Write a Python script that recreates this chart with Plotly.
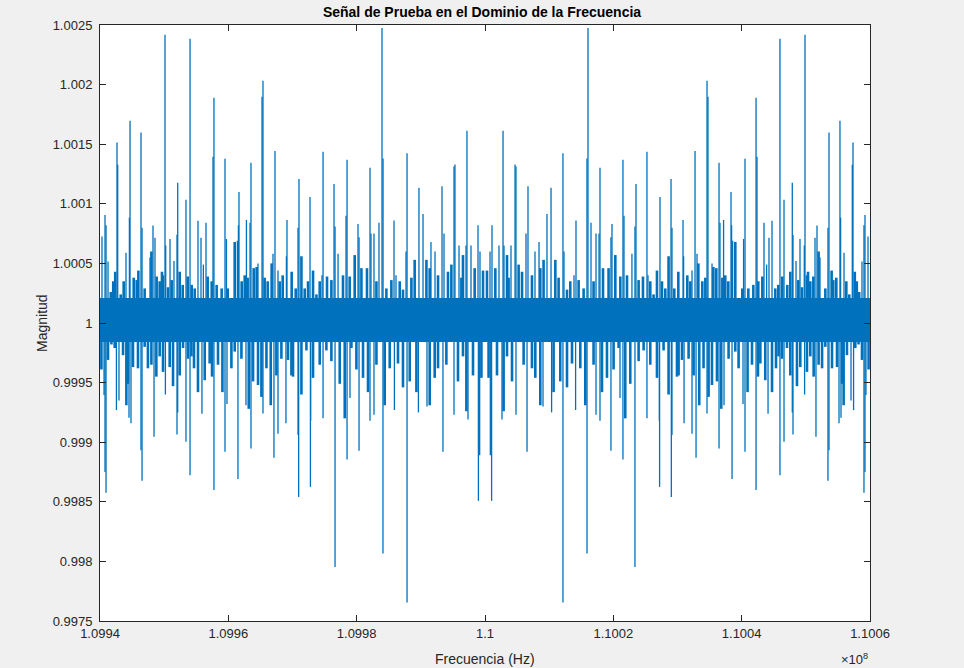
import plotly.graph_objects as go

# Centre frequency (Hz); every offset below is in units of 100 Hz from it
center_hz = 110e6
off_unit_hz = 100.0
span_off = [-600.0, 600.0]

# Dense core of the noise band (magnitude)
core_top = 1.00021
core_bottom = 0.99984

# Tall peaks above 1 (offset, magnitude)
up_left_off = [-596.9, -592.2, -590.6, -587.5, -573.5, -572.4, -559.5, -554.2, -553.2, -536.1,
               -534.5, -522.1, -517.4, -514.3, -498.7, -497.6, -490.9, -484.7, -480.0, -478.9,
               -466.0, -459.7, -447.3, -442.6, -438.9, -434.8, -423.9, -422.4, -405.2, -403.0,
               -385.9, -384.3, -383.4, -371.8, -366.2, -364.7, -353.8, -347.5, -346.0, -330.4,
               -327.3, -322.6, -309.5, -308.6, -291.4, -289.9, -272.7, -254.0, -252.4, -235.3,
               -233.7, -229.0, -216.6, -215.0, -197.9, -196.3, -179.2, -177.7, -173.0, -165.2,
               -160.5, -158.9, -141.8, -138.7, -123.1, -121.5, -102.9, -96.6, -84.2, -77.9,
               -67.0, -63.9, -48.3, -46.8, -40.5, -29.6, -28.1, -21.8, -10.9, -7.8]
up_left_mag = [1.000725, 1.000907, 1.00082, 1.000515, 1.001514, 1.001327, 1.00059, 1.000884, 1.001696, 1.001598,
               1.0008, 1.00055, 1.000817, 1.000716, 1.002419, 1.00065, 1.000705, 1.00052, 1.00074, 1.001176,
               1.001033, 1.002385, 1.000857, 1.000716, 1.00049, 1.00084, 1.001394, 1.00189, 1.001377, 1.000705,
               1.00069, 1.00082, 1.0011, 1.000865, 1.00084, 1.001344, 1.0005, 1.001898, 1.002032, 1.00058,
               1.001444, 1.00044, 1.00056, 1.000865, 1.0008, 1.001209, 1.001058, 1.0004, 1.001436, 1.001167,
               1.00081, 1.00058, 1.0009, 1.001369, 1.00083, 1.00072, 1.001302, 1.00075, 1.00075, 1.00084,
               1.002475, 1.00138, 1.00086, 1.0004, 1.0006, 1.001425, 1.001134, 1.000915, 1.00068, 1.0006,
               1.001148, 1.00075, 1.001313, 1.00133, 1.00065, 1.00065, 1.001612, 1.00065, 1.00082, 1.0006]
up_right_off = [7.8, 10.9, 21.8, 28.1, 29.6, 40.5, 46.8, 48.3, 63.9, 67.0,
                77.9, 84.2, 96.6, 102.9, 121.5, 123.1, 138.7, 141.8, 158.9, 160.5,
                165.2, 173.0, 177.7, 179.2, 196.3, 197.9, 215.0, 216.6, 229.0, 233.7,
                235.3, 252.4, 254.0, 272.7, 289.9, 291.4, 308.6, 309.5, 322.6, 327.3,
                330.4, 346.0, 347.5, 353.8, 364.7, 366.2, 371.8, 383.4, 384.3, 385.9,
                403.0, 405.2, 422.4, 423.9, 434.8, 438.9, 442.6, 447.3, 459.7, 466.0,
                478.9, 480.0, 484.7, 490.9, 497.6, 498.7, 514.3, 517.4, 522.1, 534.5,
                536.1, 553.2, 554.2, 559.5, 572.4, 573.5, 587.5, 590.6, 592.2, 596.9]
up_right_mag = [1.0006, 1.00082, 1.00065, 1.001612, 1.00065, 1.00065, 1.00133, 1.001313, 1.00075, 1.001148,
                1.0006, 1.00068, 1.000915, 1.001134, 1.001425, 1.0006, 1.0004, 1.00086, 1.00138, 1.002475,
                1.00084, 1.00075, 1.00075, 1.001302, 1.00072, 1.00083, 1.001369, 1.0009, 1.00058, 1.00081,
                1.001167, 1.001436, 1.0004, 1.001058, 1.001209, 1.0008, 1.000865, 1.00056, 1.00044, 1.001444,
                1.00058, 1.002032, 1.001898, 1.0005, 1.001344, 1.00084, 1.000865, 1.0011, 1.00082, 1.00069,
                1.000705, 1.001377, 1.00189, 1.001394, 1.00084, 1.00049, 1.000716, 1.000857, 1.002385, 1.001033,
                1.001176, 1.00074, 1.00052, 1.000705, 1.00065, 1.002419, 1.000716, 1.000817, 1.00055, 1.0008,
                1.001598, 1.001696, 1.000884, 1.00059, 1.001327, 1.001514, 1.000515, 1.00082, 1.000907, 1.000725]

# Deep dips below 1
down_left_off = [-593.7, -592.2, -590.6, -574.4, -570.4, -554.8, -551.7, -536.1, -534.5, -515.8,
                 -498.1, -480.0, -478.9, -466.0, -459.7, -441.1, -422.4, -405.2, -402.1, -385.0,
                 -372.5, -364.7, -346.0, -328.9, -322.6, -310.2, -291.4, -290.4, -272.1, -271.7,
                 -252.4, -233.7, -215.0, -210.4, -196.3, -179.2, -173.0, -159.0, -141.2, -121.5,
                 -103.8, -90.4, -65.5, -48.3, -26.5, -10.3, -8.3]
down_left_mag = [0.999395, 0.998751, 0.998575, 0.999269, 0.99935, 0.999205, 0.999158, 0.998933, 0.998676, 0.999045,
                 0.9994, 0.999065, 0.99925, 0.999003, 0.998723, 0.999238, 0.9986, 0.998919, 0.99932, 0.998692,
                 0.99931, 0.998947, 0.99924, 0.998869, 0.99907, 0.99916, 0.99906, 0.998541, 0.998625, 0.99918,
                 0.9992, 0.997953, 0.998855, 0.99937, 0.998928, 0.99918, 0.99923, 0.998066, 0.99927, 0.997655,
                 0.99925, 0.9993, 0.998919, 0.99923, 0.99919, 0.998508, 0.99889]
down_right_off = [8.3, 10.3, 26.5, 48.3, 65.5, 90.4, 103.8, 121.5, 141.2, 159.0,
                  173.0, 179.2, 196.3, 210.4, 215.0, 233.7, 252.4, 271.7, 272.1, 290.4,
                  291.4, 310.2, 322.6, 328.9, 346.0, 364.7, 372.5, 385.0, 402.1, 405.2,
                  422.4, 441.1, 459.7, 466.0, 478.9, 480.0, 498.1, 515.8, 534.5, 536.1,
                  551.7, 554.8, 570.4, 574.4, 590.6, 592.2, 593.7]
down_right_mag = [0.99889, 0.998508, 0.99919, 0.99923, 0.998919, 0.9993, 0.99925, 0.997655, 0.99927, 0.998066,
                  0.99923, 0.99918, 0.998928, 0.99937, 0.998855, 0.997953, 0.9992, 0.99918, 0.998625, 0.998541,
                  0.99906, 0.99916, 0.99907, 0.998869, 0.99924, 0.998947, 0.99931, 0.998692, 0.99932, 0.998919,
                  0.9986, 0.999238, 0.998723, 0.999003, 0.99925, 0.999065, 0.9994, 0.999045, 0.998676, 0.998933,
                  0.999158, 0.999205, 0.99935, 0.999269, 0.998575, 0.998751, 0.999395]

# Smaller peaks that make the fuzzy edge of the band
mid_up_left_off = [-583.2, -579.4, -576.3, -567.7, -563.1, -547.5, -542.8, -540.2, -530.4, -525.7,
                   -519.9, -511.7, -507.0, -503.4, -501.9, -494.0, -488.3, -475.8, -471.1, -463.3,
                   -457.1, -452.4, -432.2, -425.9, -418.2, -410.4, -401.0, -393.2, -390.1, -379.2,
                   -374.5, -369.9, -360.5, -355.9, -343.4, -338.7, -332.5, -320.0, -315.3, -301.3,
                   -295.0, -286.1, -281.0, -275.8, -268.0, -262.7, -257.6, -246.2, -239.4, -226.4,
                   -221.3, -210.9, -203.1, -192.6, -183.9, -169.2, -153.7, -145.9, -132.9, -127.8,
                   -114.7, -109.6, -91.3, -86.2, -73.2, -57.7, -52.4, -36.8, -34.3, -16.1, -3.1]
mid_up_left_mag = [1.00026, 1.00035, 1.00043, 1.00024, 1.00035, 1.00038, 1.00036, 1.00044, 1.00029, 1.00021,
                   1.0006, 1.00039, 1.00035, 1.00043, 1.0004, 1.0003, 1.00036, 1.00043, 1.00032, 1.00039,
                   1.00032, 1.00029, 1.00039, 1.00035, 1.00032, 1.00029, 1.00029, 1.00021, 1.00068, 1.00035,
                   1.0004, 1.00038, 1.00046, 1.00047, 1.00038, 1.00035, 1.0005, 1.00035, 1.0004, 1.00043,
                   1.00029, 1.00056, 1.00029, 1.00035, 1.00044, 1.00024, 1.00035, 1.00039, 1.00036, 1.00021,
                   1.0004, 1.00039, 1.00057, 1.00046, 1.00046, 1.00035, 1.00029, 1.00036, 1.00035, 1.00028,
                   1.00038, 1.00053, 1.00053, 1.00046, 1.0004, 1.00043, 1.00049, 1.00038, 1.00057, 1.00046, 1.00044]
mid_up_right_off = [3.1, 16.1, 34.3, 36.8, 52.4, 57.7, 73.2, 86.2, 91.3, 109.6,
                    114.7, 127.8, 132.9, 145.9, 153.7, 169.2, 183.9, 192.6, 203.1, 210.9,
                    221.3, 226.4, 239.4, 246.2, 257.6, 262.7, 268.0, 275.8, 281.0, 286.1,
                    295.0, 301.3, 315.3, 320.0, 332.5, 338.7, 343.4, 355.9, 360.5, 369.9,
                    374.5, 379.2, 390.1, 393.2, 401.0, 410.4, 418.2, 425.9, 432.2, 452.4,
                    457.1, 463.3, 471.1, 475.8, 488.3, 494.0, 501.9, 503.4, 507.0, 511.7,
                    519.9, 525.7, 530.4, 540.2, 542.8, 547.5, 563.1, 567.7, 576.3, 579.4, 583.2]
mid_up_right_mag = [1.00044, 1.00046, 1.00057, 1.00038, 1.00049, 1.00043, 1.0004, 1.00046, 1.00053, 1.00053,
                    1.00038, 1.00028, 1.00035, 1.00036, 1.00029, 1.00035, 1.00046, 1.00046, 1.00057, 1.00039,
                    1.0004, 1.00021, 1.00036, 1.00039, 1.00035, 1.00024, 1.00044, 1.00035, 1.00029, 1.00056,
                    1.00029, 1.00043, 1.0004, 1.00035, 1.0005, 1.00035, 1.00038, 1.00047, 1.00046, 1.00038,
                    1.0004, 1.00035, 1.00068, 1.00021, 1.00029, 1.00029, 1.00032, 1.00035, 1.00039, 1.00029,
                    1.00032, 1.00039, 1.00032, 1.00043, 1.00036, 1.0003, 1.0004, 1.00043, 1.00035, 1.00039,
                    1.0006, 1.00021, 1.00029, 1.00044, 1.00036, 1.00038, 1.00035, 1.00024, 1.00043, 1.00035, 1.00026]

mid_dn_left_off = [-597.8, -587.5, -582.2, -577.1, -564.1, -558.9, -556.4, -548.6, -540.8, -530.4,
                   -525.3, -519.9, -512.2, -507.0, -501.8, -491.4, -486.2, -475.8, -470.6, -462.8,
                   -457.5, -453.5, -447.3, -436.8, -429.1, -425.4, -416.1, -409.2, -395.2, -390.1,
                   -379.6, -368.2, -361.5, -353.7, -348.4, -340.6, -333.9, -325.1, -317.3, -307.0,
                   -301.7, -299.2, -286.1, -278.3, -268.0, -257.6, -247.2, -239.4, -226.4, -218.6,
                   -208.2, -200.4, -190.1, -182.3, -169.2, -156.3, -148.5, -135.6, -127.8, -117.3,
                   -106.9, -86.2, -78.4, -73.2, -60.2, -42.1, -34.3, -29.0, -18.7, -5.6]
mid_dn_left_mag = [0.99961, 0.99969, 0.99982, 0.99979, 0.99973, 0.99931, 0.99949, 0.99963, 0.99962, 0.9998,
                   0.99962, 0.99965, 0.99955, 0.99972, 0.99959, 0.99963, 0.99947, 0.99956, 0.99979, 0.9997,
                   0.99972, 0.99962, 0.99942, 0.99952, 0.99966, 0.99955, 0.99965, 0.99942, 0.99962, 0.99976,
                   0.9997, 0.99928, 0.99951, 0.99948, 0.99938, 0.99962, 0.99931, 0.99956, 0.9997, 0.99969,
                   0.99956, 0.99955, 0.9994, 0.99977, 0.99954, 0.99965, 0.99977, 0.99968, 0.99949, 0.9992,
                   0.99979, 0.99961, 0.99954, 0.99942, 0.99965, 0.99931, 0.99962, 0.99966, 0.99946, 0.99951,
                   0.99942, 0.99931, 0.99954, 0.99962, 0.99965, 0.99951, 0.99972, 0.99926, 0.99956, 0.99954]
mid_dn_right_off = [5.6, 18.7, 29.0, 34.3, 42.1, 60.2, 73.2, 78.4, 86.2, 106.9,
                    117.3, 127.8, 135.6, 148.5, 156.3, 169.2, 182.3, 190.1, 200.4, 208.2,
                    218.6, 226.4, 239.4, 247.2, 257.6, 268.0, 278.3, 286.1, 299.2, 301.7,
                    307.0, 317.3, 325.1, 333.9, 340.6, 348.4, 353.7, 361.5, 368.2, 379.6,
                    390.1, 395.2, 409.2, 416.1, 425.4, 429.1, 436.8, 447.3, 453.5, 457.5,
                    462.8, 470.6, 475.8, 486.2, 491.4, 501.8, 507.0, 512.2, 519.9, 525.3,
                    530.4, 540.8, 548.6, 556.4, 558.9, 564.1, 577.1, 582.2, 587.5, 597.8]
mid_dn_right_mag = [0.99954, 0.99956, 0.99926, 0.99972, 0.99951, 0.99965, 0.99962, 0.99954, 0.99931, 0.99942,
                    0.99951, 0.99946, 0.99966, 0.99962, 0.99931, 0.99965, 0.99942, 0.99954, 0.99961, 0.99979,
                    0.9992, 0.99949, 0.99968, 0.99977, 0.99965, 0.99954, 0.99977, 0.9994, 0.99955, 0.99956,
                    0.99969, 0.9997, 0.99956, 0.99931, 0.99962, 0.99938, 0.99948, 0.99951, 0.99928, 0.9997,
                    0.99976, 0.99962, 0.99942, 0.99965, 0.99955, 0.99966, 0.99952, 0.99942, 0.99962, 0.99972,
                    0.9997, 0.99979, 0.99956, 0.99947, 0.99963, 0.99959, 0.99972, 0.99955, 0.99965, 0.99962,
                    0.9998, 0.99962, 0.99963, 0.99949, 0.99931, 0.99973, 0.99979, 0.99982, 0.99969, 0.99961]

x_tick_vals = [1.0994e8, 1.0996e8, 1.0998e8, 1.1e8, 1.1002e8, 1.1004e8, 1.1006e8]
x_tick_text = ["1.0994", "1.0996", "1.0998", "1.1", "1.1002", "1.1004", "1.1006"]
y_tick_vals = [0.9975, 0.998, 0.9985, 0.999, 0.9995, 1.0, 1.0005, 1.001, 1.0015, 1.002, 1.0025]
y_tick_text = ["0.9975", "0.998", "0.9985", "0.999", "0.9995", "1", "1.0005", "1.001", "1.0015", "1.002", "1.0025"]

LINE = '#0072BD'
INK = '#262626'
FONT = 'Liberation Sans, Arial, sans-serif'


def to_hz(offsets):
    return [center_hz + o * off_unit_hz for o in offsets]


def spike_trace(offsets, mags, thickness):
    # each value is drawn as a vertical stroke from 1 to the magnitude (asymmetric error bar)
    f = to_hz(offsets)
    above = [max(m - 1.0, 0.0) for m in mags]
    below = [max(1.0 - m, 0.0) for m in mags]
    return go.Scatter(x=f, y=[1.0] * len(f), mode='markers',
                      marker=dict(size=1, color='rgba(0,0,0,0)'),
                      error_y=dict(type='data', symmetric=False, array=above, arrayminus=below,
                                   color=LINE, thickness=thickness, width=0),
                      showlegend=False, hoverinfo='skip')


fig = go.Figure()

# solid core of the band
band_x = to_hz(span_off)
fig.add_trace(go.Scatter(x=band_x, y=[core_bottom, core_bottom], mode='lines',
                         line=dict(color=LINE, width=0), showlegend=False, hoverinfo='skip'))
fig.add_trace(go.Scatter(x=band_x, y=[core_top, core_top], mode='lines', fill='tonexty',
                         fillcolor=LINE, line=dict(color=LINE, width=0), showlegend=False, hoverinfo='skip'))

fig.add_trace(spike_trace(mid_up_left_off + mid_up_right_off + mid_dn_left_off + mid_dn_right_off,
                          mid_up_left_mag + mid_up_right_mag + mid_dn_left_mag + mid_dn_right_mag, 2.6))
fig.add_trace(spike_trace(up_left_off + up_right_off + down_left_off + down_right_off,
                          up_left_mag + up_right_mag + down_left_mag + down_right_mag, 1.3))

axis_common = dict(showline=True, linecolor=INK, linewidth=1, mirror='ticks',
                   ticks='inside', ticklen=6, tickcolor=INK, showgrid=False, zeroline=False,
                   tickfont=dict(family=FONT, size=13, color=INK))

fig.update_layout(
    width=964, height=668,
    margin=dict(l=100, r=94, t=25, b=47),
    paper_bgcolor='#F0F0F0', plot_bgcolor='white',
    title=dict(text='<b>Señal de Prueba en el Dominio de la Frecuencia</b>',
               font=dict(family=FONT, size=14, color='black'),
               x=0.5, xanchor='center', y=0.982, yanchor='middle', yref='container'),
    xaxis=dict(range=[1.0994e8, 1.1006e8], tickvals=x_tick_vals, ticktext=x_tick_text, **axis_common),
    yaxis=dict(range=[0.9975, 1.0025], tickvals=y_tick_vals, ticktext=y_tick_text,
               ticklabelstandoff=4, **axis_common),
    annotations=[
        dict(text='Frecuencia (Hz)', xref='paper', yref='paper', x=0.5, y=0, yshift=-28,
             xanchor='center', yanchor='top', showarrow=False,
             font=dict(family=FONT, size=14, color=INK)),
        dict(text='Magnitud', xref='paper', yref='paper', x=0, xshift=-58, y=0.5,
             xanchor='center', yanchor='middle', textangle=-90, showarrow=False,
             font=dict(family=FONT, size=14, color=INK)),
        dict(text='×10<sup>8</sup>', xref='paper', yref='paper', x=1, y=0, yshift=-28,
             xanchor='right', yanchor='top', showarrow=False,
             font=dict(family=FONT, size=13, color=INK)),
    ],
)

# the page body has a default margin; drop it so the figure fills the window
fig.write_html("out.html", config={'displayModeBar': False},
               post_script="document.body.style.margin='0';")
